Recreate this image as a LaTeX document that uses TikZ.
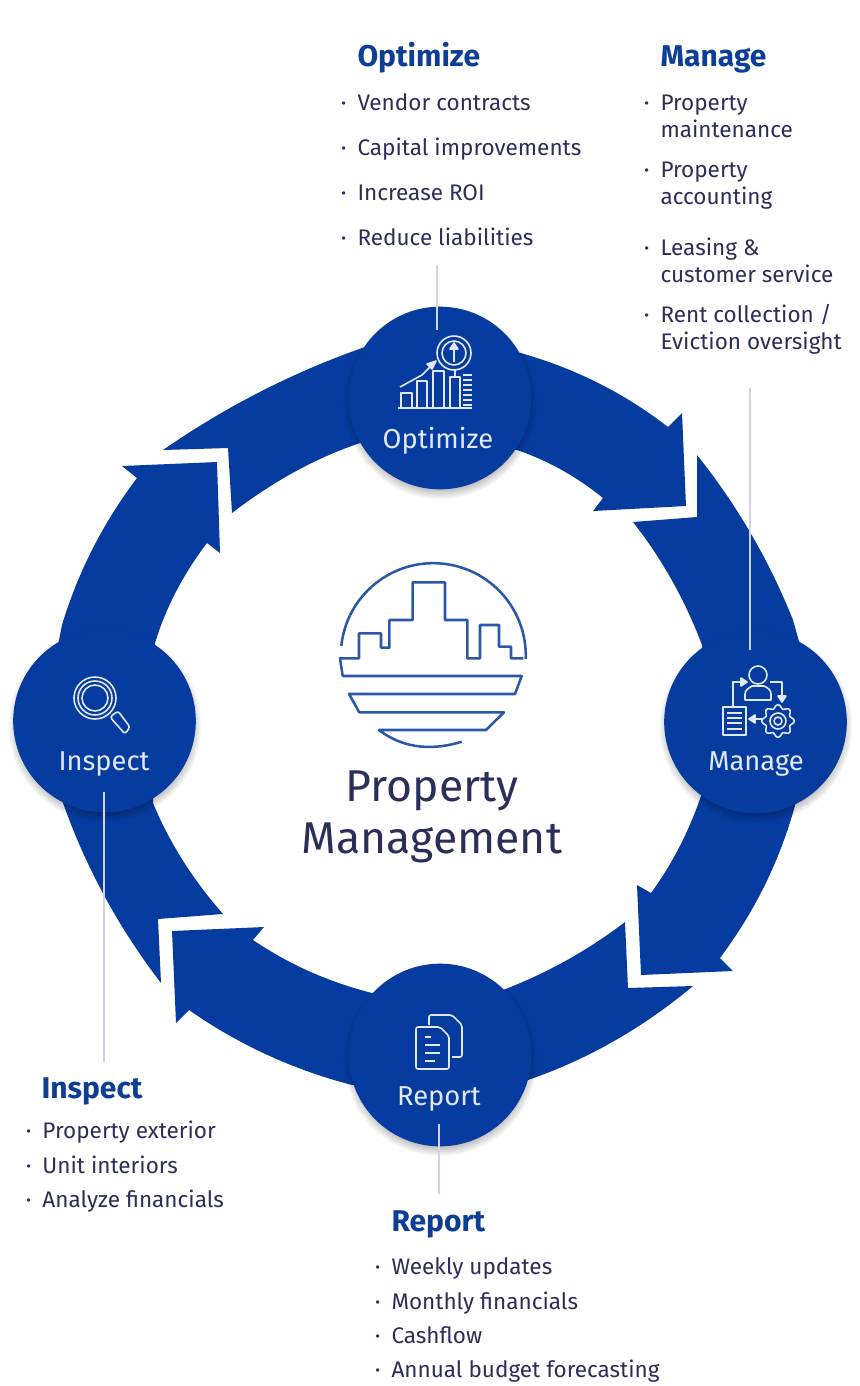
\documentclass[tikz,border=0pt]{standalone}
\usepackage{fontspec}
\setmainfont{Fira Sans}
\usetikzlibrary{shadows}
\definecolor{ringblue}{RGB}{6,60,160}
\definecolor{headblue}{RGB}{12,62,150}
\definecolor{bodynavy}{RGB}{42,46,88}
\definecolor{logoblue}{RGB}{42,88,168}
\definecolor{leadergray}{RGB}{208,212,230}
\definecolor{iconwhite}{RGB}{225,232,246}
\newcommand{\listdot}{\llap{\fontsize{11}{11}\selectfont\raisebox{1.5pt}{•}\hspace{8.5pt}}}
\tikzset{every picture/.style={line width=0.75pt}}
\tikzset{
  ringarrow/.style={fill=ringblue,draw=none},
  hubcircle/.style={circle,fill=ringblue,draw=none,minimum size=137pt,inner sep=0pt,
    circular drop shadow={shadow xshift=0pt,shadow yshift=-3pt,shadow scale=1.06,opacity=0.35,fill=black}},
  hublabel/.style={anchor=base,inner sep=0pt,text=iconwhite,font=\fontsize{20.5}{24}\selectfont},
  listhead/.style={anchor=base west,inner sep=0pt,text=headblue,font=\fontsize{22.5}{26}\selectfont\bfseries},
  listitem/.style={anchor=base west,inner sep=0pt,text=bodynavy,align=left,font=\fontsize{16.9}{20.25}\selectfont},
  iconline/.style={draw=iconwhite,line width=1.2pt,line join=round},
  logoline/.style={draw=logoblue,line width=1.9pt,line join=round},
  leaderline/.style={draw=leadergray,line width=1.1pt},
  centertitle/.style={anchor=base,inner sep=0pt,text=bodynavy,font=\fontsize{33.4}{40}\selectfont}
}
\begin{document}
\begin{tikzpicture}[x=0.75pt,y=0.75pt,yscale=-1,xscale=1]
\useasboundingbox (0,0) rectangle (860,1386);

%Ring arrow through Optimize
\path [ringarrow] (163,450) -- (228,448) -- (232,513) .. controls (271,483) and (313,459) .. (360,443) -- (517,450) .. controls (549,461) and (577,477) .. (603,498) -- (593,511) -- (686,506) -- (682,413) -- (668,427) .. controls (623,392) and (572,367) .. (517,352) -- (365,347) .. controls (293,372) and (225,407) .. (163,450) -- cycle ;
%Ring arrow through Manage
\path [ringarrow] (633,522) -- (697,517) -- (697,455) .. controls (737,505) and (769,560) .. (793,620) -- (800,645) -- (796,802) .. controls (780,861) and (755,911) .. (720,958) -- (733,971) -- (641,975) -- (637,885) -- (651,893) .. controls (673,863) and (690,829) .. (702,793) -- (702,645) .. controls (685,600) and (662,559) .. (633,522) -- cycle ;
%Ring arrow through Report
\path [ringarrow] (625,922) -- (628,988) -- (693,986) .. controls (644,1027) and (589,1059) .. (528,1080) -- (352,1085) .. controls (294,1070) and (239,1045) .. (189,1010) -- (176,1023) -- (172,931) -- (264,927) -- (253,940) .. controls (290,965) and (329,982) .. (372,993) -- (503,990) .. controls (547,973) and (587,951) .. (625,922) -- cycle ;
%Ring arrow through Inspect
\path [ringarrow] (223,914) -- (158,919) -- (161,983) .. controls (118,927) and (85,866) .. (62,800) -- (58,645) -- (62,625) .. controls (78,572) and (103,523) .. (137,478) -- (122,466) -- (217,462) -- (220,553) -- (207,543) .. controls (184,573) and (166,607) .. (155,643) -- (153,803) .. controls (170,844) and (194,881) .. (223,914) -- cycle ;

%Shape: Circles
\node [hubcircle] (optimize) at (440,398) {};
\node [hubcircle] (manage) at (755.5,722) {};
\node [hubcircle] (inspect) at (104.5,721) {};
\node [hubcircle] (report) at (440,1055) {};

%Hub labels
\node [hublabel] (optimizelabel) at (438,448) {Optimize};
\node [hublabel] (managelabel) at (756,770) {Manage};
\node [hublabel] (inspectlabel) at (104,770) {Inspect};
\node [hublabel] (reportlabel) at (439,1105) {Report};

%Leader lines
\coordinate (optimizetop) at (437,265);
\coordinate (optimizeend) at (437,330);
\coordinate (managetop) at (750,388);
\coordinate (manageend) at (750,650);
\coordinate (inspecttop) at (104,792);
\coordinate (inspectend) at (104,1062);
\coordinate (reporttop) at (439,1124);
\coordinate (reportend) at (439,1194);
\draw [leaderline] (optimizetop) -- (optimizeend) ;
\draw [leaderline] (managetop) -- (manageend) ;
\draw [leaderline] (inspecttop) -- (inspectend) ;
\draw [leaderline] (reporttop) -- (reportend) ;

%Optimize list
\node [listhead] (optimizehead) at (357,66) {Optimize};
\node [listitem] (vendor) at (357,110) {\listdot Vendor contracts};
\node [listitem] (capital) at (357,155) {\listdot Capital improvements};
\node [listitem] (roi) at (357,200) {\listdot Increase ROI};
\node [listitem] (liabilities) at (357,245) {\listdot Reduce liabilities};

%Manage list
\node [listhead] (managehead) at (660,66) {Manage};
\node [listitem] (maintenance) at (660,137) {\listdot Property\\maintenance};
\node [listitem] (accounting) at (660,204) {\listdot Property\\accounting};
\node [listitem] (leasing) at (660,282) {\listdot Leasing \&\\customer service};
\node [listitem] (rent) at (660,349) {\listdot Rent collection /\\Eviction oversight};

%Inspect list
\node [listhead] (inspecthead) at (41,1098) {Inspect};
\node [listitem] (exterior) at (42,1138) {\listdot Property exterior};
\node [listitem] (interiors) at (42,1173) {\listdot Unit interiors};
\node [listitem] (financials) at (42,1207) {\listdot Analyze financials};

%Report list
\node [listhead] (reporthead) at (391,1231) {Report};
\node [listitem] (weekly) at (391,1274) {\listdot Weekly updates};
\node [listitem] (monthly) at (391,1309) {\listdot Monthly financials};
\node [listitem] (cashflow) at (391,1343) {\listdot Cashflow};
\node [listitem] (budget) at (391,1377) {\listdot Annual budget forecasting};

%Center title
\node [centertitle] (titletop) at (432,801) {Property};
\node [centertitle] (titlebottom) at (432,853) {Management};

%Logo: skyline
\draw [logoline] (341.3,646) arc (186:362:92.5) ;
\draw [logoline] (523.3,658.3) -- (511,658.3) -- (511,646.7) -- (499,646.7) -- (499,625) -- (480,625) -- (480,658.3) -- (467.3,658.3) -- (467.3,620) -- (445,620) -- (445,582.3) -- (412.7,582.3) -- (412.7,620) -- (389.3,620) -- (389.3,647.7) -- (381,647.7) -- (381,633.3) -- (359,633.3) -- (359,658.3) -- (340,658.3) -- (342.7,676) -- (521.7,676) -- (515,694) -- (349,694) -- (359.3,712.3) -- (504,712.3) -- (486,730) -- (379,730) .. controls (405,750) and (435,750) .. (461.7,741.7) ;

%Icon: Optimize
\draw [iconline] (398,408) -- (472,408) ;
\draw [iconline] (401,408) -- (401,393) -- (412,393) -- (412,408) ;
\draw [iconline] (417,408) -- (417,381) -- (427,381) -- (427,408) ;
\draw [iconline] (433,408) -- (433,371) -- (444,371) -- (444,408) ;
\draw [iconline] (450,408) -- (450,377) -- (460,377) -- (460,408) ;
\draw [iconline] (400,387) -- (422,375) -- (434,363) ;
\draw [iconline,fill=iconwhite] (436,361) -- (427,364) -- (432,369) -- cycle ;
\draw [iconline] (454,353) circle [radius=17] ;
\draw [iconline] (454,353) circle [radius=12] ;
\draw [iconline] (454,362) -- (454,346) ;
\draw [iconline,fill=iconwhite] (454,343) -- (450,349) -- (458,349) -- cycle ;
\draw [iconline] (455,370) -- (455,377) ;
\draw [iconline] (463,375) -- (472,375) (463,380) -- (472,380) (463,385) -- (472,385) (463,390) -- (472,390) (463,395) -- (472,395) (463,400) -- (472,400) (463,405) -- (472,405) ;

%Icon: Manage
\draw [iconline] (758,675) circle [radius=9] ;
\draw [iconline] (745,700) -- (745,694) .. controls (745,690) and (749,688) .. (752,686) -- (764,686) .. controls (768,688) and (771,690) .. (771,694) -- (771,700) -- cycle ;
\draw [iconline] (733,707) -- (733,682) -- (743,682) ;
\draw [iconline,fill=iconwhite] (747,682) -- (741,678) -- (741,686) -- cycle ;
\draw [iconline] (770,682) -- (782,682) -- (782,698) ;
\draw [iconline,fill=iconwhite] (782,702) -- (778,696) -- (786,696) -- cycle ;
\draw [iconline] (723,707) rectangle (746,735) ;
\draw [iconline] (727,713) -- (742,713) (727,718) -- (742,718) (727,723) -- (742,723) (727,729) -- (742,729) ;
\draw [iconline,shift={(778,721)}] plot [domain=0:360,samples=73,smooth] (\x:{14.5+1.8*cos(8*\x)}) ;
\draw [iconline] (778,721) circle [radius=8] ;
\draw [iconline] (778,721) circle [radius=4] ;
\draw [iconline] (762,719) -- (752,719) ;
\draw [iconline,fill=iconwhite] (749,719) -- (755,715) -- (755,723) -- cycle ;

%Icon: Report
\draw [iconline,rounded corners=1.5pt] (429,1025) -- (429,1015) -- (452,1015) -- (462,1025) -- (462,1057) -- (452,1057) ;
\draw [iconline,rounded corners=1.5pt] (416,1027) -- (440,1027) -- (449,1036) -- (449,1069) -- (416,1069) -- cycle ;
\draw [iconline] (425,1037) -- (431,1037) (425,1045) -- (440,1045) (425,1053) -- (440,1053) (425,1061) -- (435,1061) ;

%Icon: Inspect
\draw [iconline] (95,698) circle [radius=21] ;
\draw [iconline] (95,698) circle [radius=17] ;
\draw [iconline] (95,698) circle [radius=13] ;
\draw [iconline,rounded corners=2pt] (110,717) -- (118,711) -- (130,727) -- (125,734) -- cycle ;

\end{tikzpicture}
\end{document}
